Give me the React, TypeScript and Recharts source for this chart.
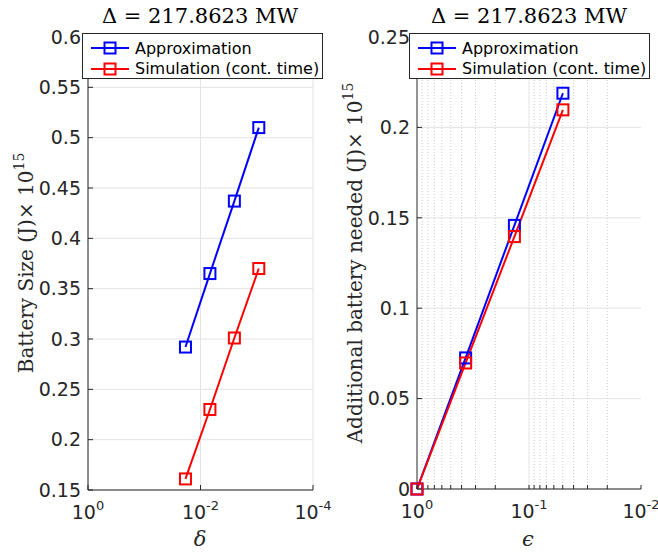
import React from 'react';
import { LineChart, Line, XAxis, YAxis, CartesianGrid, Legend, ReferenceLine } from 'recharts';

// left panel: battery size vs delta
const deltaValues = [0.0185, 0.0068, 0.0025, 0.00092];
const batteryApprox = [0.292, 0.365, 0.437, 0.51];
const batterySim = [0.161, 0.23, 0.301, 0.37];

// right panel: additional battery vs epsilon
const epsilonValues = [1, 0.368, 0.135, 0.0498];
const extraApprox = [0, 0.0725, 0.1458, 0.2189];
const extraSim = [0, 0.0697, 0.1396, 0.2097];

const deltaTicks = [1, 0.01, 0.0001];
const epsilonTicks = [1, 0.1, 0.01];
const epsilonMinor = [0.9, 0.8, 0.7, 0.6, 0.5, 0.4, 0.3, 0.2, 0.09, 0.08, 0.07, 0.06, 0.05, 0.04, 0.03, 0.02];
const leftYTicks = [0.15, 0.2, 0.25, 0.3, 0.35, 0.4, 0.45, 0.5, 0.55, 0.6];
const rightYTicks = [0, 0.05, 0.1, 0.15, 0.2, 0.25];

const leftData = deltaValues.map((x, i) => ({ x, approx: batteryApprox[i], sim: batterySim[i] }));
const rightData = epsilonValues.map((x, i) => ({ x, approx: extraApprox[i], sim: extraSim[i] }));

const AXIS = '#262626';
const GRID = '#e3e3e3';
const BLUE = '#0000ff';
const RED = '#ff0000';
const SANS = '"DejaVu Sans", sans-serif';
const SERIF = '"DejaVu Serif", serif';

const SquareDot = (props: any) => {
  const { cx, cy, stroke } = props;
  if (cx == null || cy == null) return <g />;
  return <rect x={cx - 5.5} y={cy - 5.5} width={11} height={11} fill="none" stroke={stroke} strokeWidth={2} />;
};

const PowerTick = (props: any) => {
  const { x, y, payload } = props;
  const lg = Math.log10(payload.value);
  if (Math.abs(lg - Math.round(lg)) > 1e-6) return <g />;
  return (
    <text x={x} y={y + 29} textAnchor="middle" fill={AXIS} fontFamily={SANS} fontSize={19}>
      10<tspan dy={-9} fontSize={13}>{Math.round(lg)}</tspan>
    </text>
  );
};

const NoTick = () => <g />;

const LegendBox = (props: any) => {
  const { payload } = props;
  return (
    <div
      style={{
        width: 241,
        height: 46,
        paddingTop: 4,
        boxSizing: 'border-box',
        border: `1px solid ${AXIS}`,
        background: '#fff',
        fontFamily: SANS,
        fontSize: 16,
        color: '#000',
      }}
    >
      {(payload || []).map((entry: any) => (
        <div key={entry.value} style={{ display: 'flex', alignItems: 'center', height: 20.5 }}>
          <svg width={52} height={20} style={{ flex: 'none' }}>
            <line x1={8} x2={46} y1={10} y2={10} stroke={entry.color} strokeWidth={2} />
            <rect x={21.5} y={4.5} width={11} height={11} fill="none" stroke={entry.color} strokeWidth={2} />
          </svg>
          <span style={{ whiteSpace: 'nowrap' }}>{entry.value}</span>
        </div>
      ))}
    </div>
  );
};

const yTick = { fill: AXIS, fontSize: 19, fontFamily: SANS };

export default function App() {
  return (
    <div style={{ position: 'absolute', left: 0, top: 0, width: 658, height: 553, background: '#fff', overflow: 'hidden' }}>
      <div style={{ position: 'absolute', left: 0, top: 0 }}>
        <LineChart width={350} height={553} data={leftData} margin={{ top: 37, right: 37, bottom: 23, left: 38 }}>
          <CartesianGrid stroke={GRID} />
          <XAxis
            dataKey="x"
            type="number"
            scale="log"
            domain={[0.0001, 1]}
            reversed
            ticks={deltaTicks}
            interval={0}
            tick={PowerTick}
            tickSize={-5}
            tickMargin={5}
            height={40}
            stroke={AXIS}
          />
          <XAxis
            xAxisId="top"
            orientation="top"
            dataKey="x"
            type="number"
            scale="log"
            domain={[0.0001, 1]}
            reversed
            ticks={deltaTicks}
            interval={0}
            tick={NoTick}
            tickSize={-5}
            height={0}
            stroke={AXIS}
          />
          <YAxis
            type="number"
            domain={[0.15, 0.6]}
            ticks={leftYTicks}
            interval={0}
            tick={yTick}
            tickSize={-5}
            tickMargin={12}
            width={50}
            stroke={AXIS}
          />
          <YAxis
            yAxisId="right"
            orientation="right"
            type="number"
            domain={[0.15, 0.6]}
            ticks={leftYTicks}
            interval={0}
            tick={NoTick}
            tickSize={-5}
            width={0}
            stroke={AXIS}
          />
          <Legend
            layout="vertical"
            align="center"
            verticalAlign="middle"
            content={LegendBox}
            wrapperStyle={{ left: 82, top: 33, width: 243 }}
          />
          <Line dataKey="approx" name="Approximation" stroke={BLUE} strokeWidth={2} dot={<SquareDot />} isAnimationActive={false} />
          <Line dataKey="sim" name="Simulation (cont. time)" stroke={RED} strokeWidth={2} dot={<SquareDot />} isAnimationActive={false} />
        </LineChart>
      </div>

      <div style={{ position: 'absolute', left: 329, top: 0 }}>
        <LineChart width={349} height={553} data={rightData} margin={{ top: 37, right: 37, bottom: 24, left: 38 }}>
          <CartesianGrid stroke={GRID} vertical={false} />
          {epsilonMinor.map((v) => (
            <ReferenceLine key={v} x={v} stroke="#cfcfcf" strokeDasharray="1 2" />
          ))}
          <ReferenceLine x={0.1} stroke={GRID} />
          <XAxis
            dataKey="x"
            type="number"
            scale="log"
            domain={[0.01, 1]}
            reversed
            ticks={[...epsilonTicks, ...epsilonMinor]}
            interval={0}
            tick={PowerTick}
            tickSize={-4}
            tickMargin={4}
            height={40}
            stroke={AXIS}
          />
          <XAxis
            xAxisId="top"
            orientation="top"
            dataKey="x"
            type="number"
            scale="log"
            domain={[0.01, 1]}
            reversed
            ticks={[...epsilonTicks, ...epsilonMinor]}
            interval={0}
            tick={NoTick}
            tickSize={-4}
            height={0}
            stroke={AXIS}
          />
          <YAxis
            type="number"
            domain={[0, 0.25]}
            ticks={rightYTicks}
            interval={0}
            tick={yTick}
            tickSize={-5}
            tickMargin={12}
            width={50}
            stroke={AXIS}
          />
          <YAxis
            yAxisId="right"
            orientation="right"
            type="number"
            domain={[0, 0.25]}
            ticks={rightYTicks}
            interval={0}
            tick={NoTick}
            tickSize={-5}
            width={0}
            stroke={AXIS}
          />
          <Legend
            layout="vertical"
            align="center"
            verticalAlign="middle"
            content={LegendBox}
            wrapperStyle={{ left: 80, top: 33, width: 243 }}
          />
          <Line dataKey="approx" name="Approximation" stroke={BLUE} strokeWidth={2} dot={<SquareDot />} isAnimationActive={false} />
          <Line dataKey="sim" name="Simulation (cont. time)" stroke={RED} strokeWidth={2} dot={<SquareDot />} isAnimationActive={false} />
        </LineChart>
      </div>

      <svg width={658} height={553} style={{ position: 'absolute', left: 0, top: 0, pointerEvents: 'none' }}>
        <text x={200} y={23} textAnchor="middle" fontFamily={SERIF} fontSize={21} fill="#000">
          Δ = 217.8623 MW
        </text>
        <text x={529} y={23} textAnchor="middle" fontFamily={SERIF} fontSize={21} fill="#000">
          Δ = 217.8623 MW
        </text>
        <text transform="translate(33,263) rotate(-90)" textAnchor="middle" fontFamily={SERIF} fontSize={20} fill={AXIS}>
          Battery Size (J)× 10<tspan dy={-9} fontSize={14}>15</tspan>
        </text>
        <text transform="translate(362,263) rotate(-90)" textAnchor="middle" fontFamily={SERIF} fontSize={20} fill={AXIS}>
          Additional battery needed (J)× 10<tspan dy={-9} fontSize={14}>15</tspan>
        </text>
        <text x={200} y={546} textAnchor="middle" fontFamily={SERIF} fontStyle="italic" fontSize={21} fill={AXIS}>
          δ
        </text>
        <text x={528} y={546} textAnchor="middle" fontFamily={SERIF} fontStyle="italic" fontSize={21} fill={AXIS}>
          ϵ
        </text>
      </svg>
    </div>
  );
}
